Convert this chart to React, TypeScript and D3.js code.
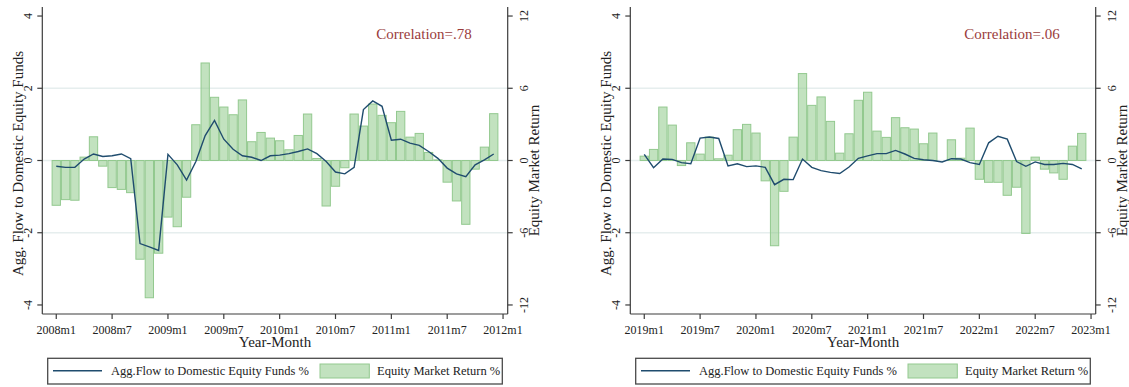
import React from "react";
import * as d3 from "d3";

// ---- Data ----
const ticks2008 = ["2008m1", "2008m7", "2009m1", "2009m7", "2010m1", "2010m7", "2011m1", "2011m7", "2012m1"];
const ticks2019 = ["2019m1", "2019m7", "2020m1", "2020m7", "2021m1", "2021m7", "2022m1", "2022m7", "2023m1"];

// Aggregate flow to domestic equity funds (%), monthly from 2008m1
const flow2008 = [-0.16, -0.19, -0.19, 0.04, 0.18, 0.11, 0.13, 0.18, 0.05, -2.3, -2.39, -2.49, 0.17, -0.12, -0.54, -0.03, 0.69, 1.11, 0.59, 0.31, 0.13, 0.09, 0.0, 0.13, 0.15, 0.19, 0.25, 0.32, 0.19, -0.03, -0.32, -0.37, -0.19, 1.41, 1.65, 1.5, 0.56, 0.59, 0.48, 0.42, 0.25, 0.06, -0.21, -0.37, -0.45, -0.12, 0.02, 0.18];
// Equity market return (%), monthly from 2008m1
const ret2008 = [-3.72, -3.25, -3.3, 0.28, 1.97, -0.47, -2.25, -2.4, -2.67, -8.2, -11.4, -7.7, -4.7, -5.5, -3.05, 2.97, 8.1, 5.25, 4.44, 3.8, 5.03, 1.56, 2.33, 1.86, 1.64, 0.89, 2.08, 3.86, 0.17, -3.78, -2.14, -0.6, 3.86, 2.86, 4.69, 3.75, 3.14, 4.08, 1.94, 2.25, 0.67, 0.05, -1.8, -3.36, -5.3, -0.72, 1.11, 3.89];

// monthly from 2019m1
const flow2019 = [0.17, -0.2, 0.04, 0.03, -0.06, -0.09, 0.62, 0.65, 0.61, -0.15, -0.09, -0.17, -0.15, -0.19, -0.67, -0.52, -0.53, 0.04, -0.19, -0.28, -0.33, -0.36, -0.18, 0.06, 0.13, 0.19, 0.19, 0.28, 0.18, 0.06, 0.02, 0.0, -0.04, 0.05, 0.04, -0.06, -0.11, 0.49, 0.67, 0.59, -0.03, -0.16, -0.04, -0.11, -0.11, -0.08, -0.11, -0.23];
const ret2019 = [0.36, 0.92, 4.44, 2.94, -0.42, 1.47, 0.53, 1.94, 0.14, 0.44, 2.56, 3.0, 2.28, -1.69, -7.08, -2.56, 1.94, 7.22, 4.58, 5.28, 3.25, 0.61, 2.22, 5.0, 5.67, 2.44, 1.92, 3.56, 2.72, 2.61, 1.39, 2.28, 0.0, 1.72, 0.19, 2.69, -1.56, -1.81, -1.81, -2.89, -2.22, -6.06, 0.28, -0.72, -1.03, -1.56, 1.19, 2.25];

const leftTicks = [-4, -2, 0, 2, 4];
const rightTicks = [-12, -6, 0, 6, 12];
const gridTicks = [-2, 0, 2];

const FONT = "'Liberation Serif', 'Times New Roman', serif";
const AXIS = "#3c3c3c";
const LINE = "#1f4c6e";
const BAR_FILL = "rgba(133,197,127,0.5)";
const BAR_STROKE = "#93c98f";
const GRID = "#e6eeee";
const CORR = "#9a3c3c";

type PanelProps = {
  ox: number;
  flow: number[];
  ret: number[];
  tickLabels: string[];
  corr: string;
};

function Panel({ ox, flow, ret, tickLabels, corr }: PanelProps) {
  const left = ox + 42.3;
  const right = ox + 507.7;
  const top = 7;
  const bottom = 314;
  const x = d3.scaleLinear().domain([-1.5, 48.5]).range([left, right]);
  const y = d3.scaleLinear().domain([-4.25, 4.25]).range([bottom, top]);
  const yR = d3.scaleLinear().domain([-12.75, 12.75]).range([bottom, top]);
  const bw = x(1) - x(0);
  const line = d3
    .line<number>()
    .x((_, i) => x(i))
    .y((d) => y(d));
  const midX = (left + right) / 2;
  const midY = (top + bottom) / 2;

  return (
    <g>
      {gridTicks.map((t) => (
        <line key={"g" + t} x1={left} x2={right} y1={y(t)} y2={y(t)} stroke={GRID} strokeWidth={1.3} />
      ))}
      {ret.map((v, i) =>
        v === 0 ? null : (
          <rect
            key={"b" + i}
            x={x(i) - bw / 2 + 0.5}
            width={bw - 1}
            y={Math.min(yR(v), yR(0))}
            height={Math.abs(yR(v) - yR(0))}
            fill={BAR_FILL}
            stroke={BAR_STROKE}
            strokeWidth={1}
          />
        )
      )}
      <path d={line(flow) || ""} fill="none" stroke={LINE} strokeWidth={1.4} />
      {/* axes */}
      <line x1={left} x2={left} y1={top} y2={bottom} stroke={AXIS} strokeWidth={1.2} />
      <line x1={right} x2={right} y1={top} y2={bottom} stroke={AXIS} strokeWidth={1.2} />
      <line x1={left} x2={right} y1={bottom} y2={bottom} stroke={AXIS} strokeWidth={1.2} />
      {leftTicks.map((t) => (
        <g key={"l" + t}>
          <line x1={left - 5} x2={left} y1={y(t)} y2={y(t)} stroke={AXIS} strokeWidth={1.2} />
          <text
            transform={`translate(${left - 10},${y(t)}) rotate(-90)`}
            textAnchor="middle"
            fontFamily={FONT}
            fontSize={12}
            fill="#222"
          >
            {t}
          </text>
        </g>
      ))}
      {rightTicks.map((t) => (
        <g key={"r" + t}>
          <line x1={right} x2={right + 5} y1={yR(t)} y2={yR(t)} stroke={AXIS} strokeWidth={1.2} />
          <text
            transform={`translate(${right + 20},${yR(t)}) rotate(-90)`}
            textAnchor="middle"
            fontFamily={FONT}
            fontSize={12}
            fill="#222"
          >
            {t}
          </text>
        </g>
      ))}
      {tickLabels.map((lab, k) => (
        <g key={"x" + k}>
          <line x1={x(k * 6)} x2={x(k * 6)} y1={bottom} y2={bottom + 5} stroke={AXIS} strokeWidth={1.2} />
          <text x={x(k * 6)} y={333.5} textAnchor="middle" fontFamily={FONT} fontSize={12} fill="#222">
            {lab}
          </text>
        </g>
      ))}
      <text x={midX} y={346.5} textAnchor="middle" fontFamily={FONT} fontSize={15} fill="#222">
        Year-Month
      </text>
      <text
        transform={`translate(${ox + 23},${midY + 3}) rotate(-90)`}
        textAnchor="middle"
        fontFamily={FONT}
        fontSize={15}
        fill="#222"
      >
        Agg. Flow to Domestic Equity Funds
      </text>
      <text
        transform={`translate(${right + 31.5},${midY + 10}) rotate(-90)`}
        textAnchor="middle"
        fontFamily={FONT}
        fontSize={15}
        fill="#222"
      >
        Equity Market Return
      </text>
      <text x={ox + 424} y={38.5} textAnchor="middle" fontFamily={FONT} fontSize={15} fill={CORR}>
        {corr}
      </text>
      {/* legend */}
      <rect x={ox + 47.7} y={358.3} width={454.6} height={25.7} fill="#fff" stroke="#4a4a4a" strokeWidth={1.3} />
      <line x1={ox + 53} x2={ox + 102} y1={370.7} y2={370.7} stroke={LINE} strokeWidth={1.4} />
      <text x={ox + 111} y={375} fontFamily={FONT} fontSize={12.5} fill="#222">
        Agg.Flow to Domestic Equity Funds %
      </text>
      <rect x={ox + 320} y={364} width={49.3} height={14} fill={BAR_FILL} stroke={BAR_STROKE} strokeWidth={1} />
      <text x={ox + 377} y={375} fontFamily={FONT} fontSize={12.5} fill="#222">
        Equity Market Return %
      </text>
    </g>
  );
}

export default function App() {
  return (
    <svg
      width={1129}
      height={387}
      style={{ position: "absolute", left: 0, top: 0, background: "#fff" }}
    >
      <rect width={1129} height={387} fill="#fff" />
      <Panel ox={0} flow={flow2008} ret={ret2008} tickLabels={ticks2008} corr="Correlation=.78" />
      <Panel ox={588} flow={flow2019} ret={ret2019} tickLabels={ticks2019} corr="Correlation=.06" />
    </svg>
  );
}
